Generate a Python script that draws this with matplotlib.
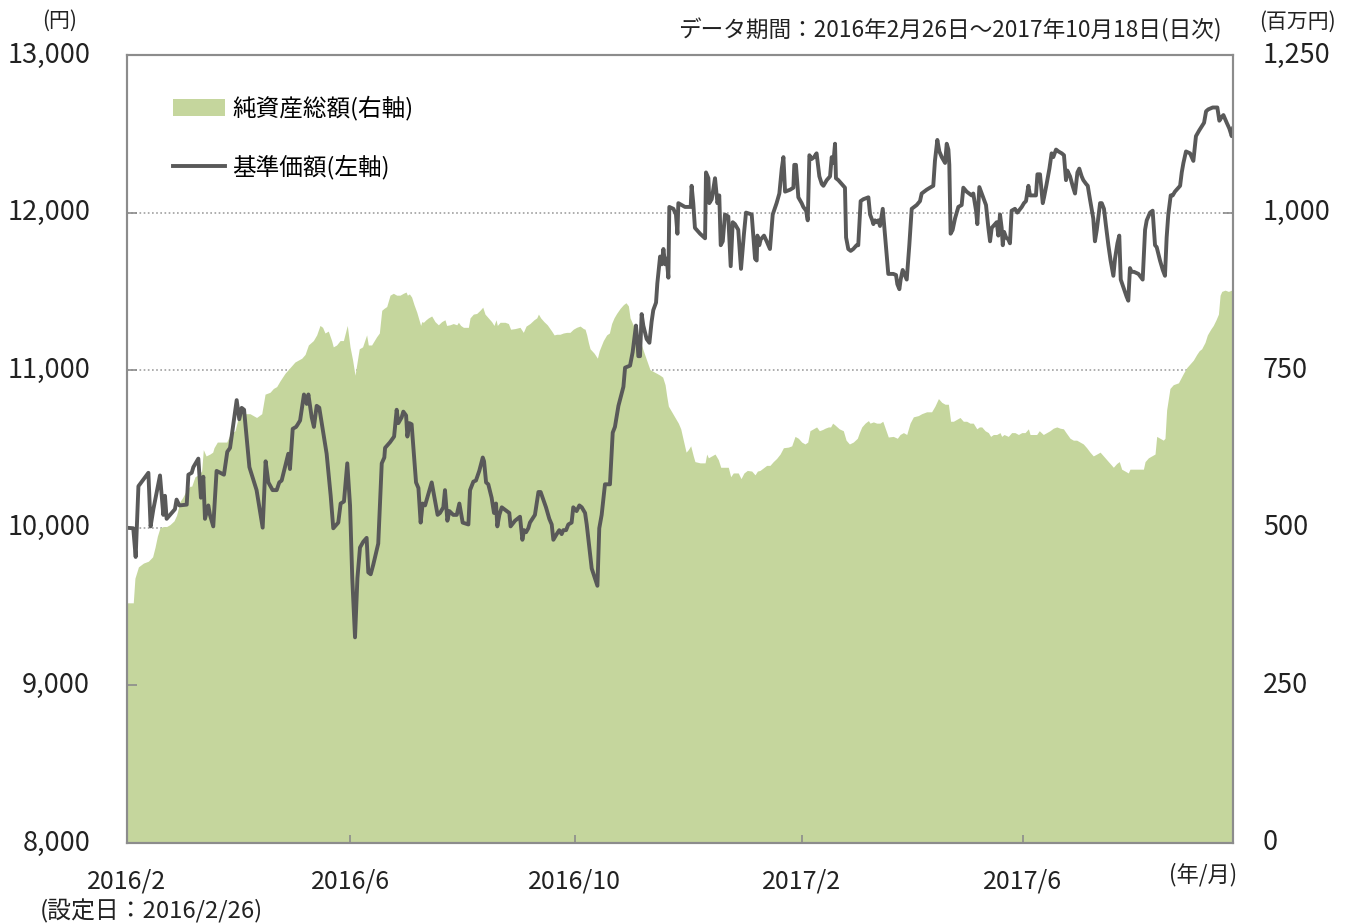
import numpy as np
import matplotlib
matplotlib.use("Agg")
import matplotlib.pyplot as plt
import matplotlib.transforms as mtransforms
from matplotlib.patches import Patch
from matplotlib.lines import Line2D

plt.rcParams['font.family'] = ['Noto Sans CJK JP', 'DejaVu Sans']

START = np.datetime64('2016-02-26')
END = np.datetime64('2017-10-18')

# 基準価額 (左軸): days since launch, price (円)
nav_days = [0, 3.4, 4.7, 6.2, 11.6, 12.8, 14.3, 17.9, 19.7, 20.6, 21.5, 26.0, 26.9, 28.4, 32.4, 33.3, 35.1, 36.0,
            38.7, 40.1, 41.4, 42.3, 44.1, 45.0, 46.8, 48.6, 52.6, 54.4, 55.9, 59.5, 60.9, 62.2, 63.5, 66.4, 70.3,
            73.6, 75.2, 76.7, 79.0, 81.2, 82.6, 83.9, 85.7, 87.5, 88.4, 89.9, 91.7, 92.4, 93.9, 96.0, 97.5, 98.4,
            100.2, 101.4, 102.9, 104.3, 108.3, 110.5, 111.9, 114.6, 115.9, 117.7, 119.5, 121.0, 122.2, 123.7,
            125.0, 126.4, 128.2, 130.0, 130.9, 132.2, 133.6, 136.3, 138.2, 139.6, 140.0,
            142.7, 144.9, 146.3, 147.2, 149.0, 149.9, 151.4, 152.1, 153.2, 154.4, 155.7, 156.8, 158.1, 159.3,
            160.4, 161.7, 165.3, 168.5, 169.8, 171.6, 172.5, 173.8, 174.9, 177.0, 178.9, 180.3, 182.1, 185.2,
            186.1, 187.9, 189.3, 191.1, 193.0, 193.7, 194.8, 196.0, 197.8, 199.1, 200.2, 200.9, 202.0, 203.3,
            206.0, 207.4, 208.1, 210.5, 213.2, 214.5, 215.4, 216.5, 217.7, 218.6, 221.3, 223.2, 224.4, 227.3,
            229.1, 230.4, 231.3, 233.1, 234.5, 235.8, 236.7, 238.2, 239.4, 241.2, 242.1, 243.0, 243.9, 245.4,
            246.7, 248.5, 249.4, 250.8, 252.1, 255.2, 256.2, 257.5, 259.3, 262.0, 263.5, 264.7, 266.6, 269.3,
            270.2, 272.9, 274.3, 276.1, 276.9, 277.4, 278.3, 279.2, 280.1, 281.9, 283.4, 284.6, 285.5, 287.0,
            287.7,
            289.2, 290.1, 291.0, 291.9, 292.8, 293.7, 294.2, 296.4, 297.8, 298.6, 299.1, 300.9, 302.7, 305.8,
            306.3, 307.2, 308.1, 310.9, 313.6, 314.1, 315.4, 315.9, 317.2, 319.0, 320.3, 321.3, 322.1, 323.2,
            324.4, 326.2, 327.5, 328.6, 329.8, 331.6, 333.1, 334.7, 335.8, 338.9, 340.7, 341.6, 342.0, 343.0,
            343.8, 345.6, 347.0, 348.8, 350.3, 352.4, 353.9, 355.2, 356.1, 357.0, 359.7, 361.5, 362.0, 362.9,
            364.2, 366.0, 366.9, 368.4, 369.3, 370.2, 371.4, 372.7, 374.1, 375.6, 376.9, 377.8, 379.6, 381.4,
            382.3, 383.2, 384.1, 384.6, 385.9, 387.7, 389.5, 390.1, 391.3, 392.6, 394.0, 395.8, 396.7, 398.0,
            399.5, 402.2, 403.1, 404.3, 404.9, 405.8, 406.7, 407.6, 408.5, 410.0, 410.7, 411.8, 413.0, 415.7,
            417.2, 417.9, 419.0, 419.7, 420.8, 422.1, 423.0, 424.4, 425.7, 428.4, 430.2, 431.1, 433.8,
            435.6, 437.4, 438.3, 439.6, 440.7, 442.0, 443.8, 444.7, 445.6, 446.1, 446.8, 447.9, 449.2, 451.0,
            452.8, 453.7, 455.5, 458.2, 459.1, 460.6, 461.3, 462.4, 463.7, 464.9, 466.0, 467.3, 468.2, 469.1,
            470.9, 471.8, 472.7, 473.6, 474.5, 475.1, 475.8, 476.9, 478.1, 479.0, 479.9, 481.7, 483.0, 485.4,
            486.6, 487.7, 489.0, 489.9, 491.7, 493.1, 493.9, 495.3, 496.8, 497.5, 498.9, 500.4, 501.6, 502.5,
            504.0, 505.3, 507.1, 508.3, 509.4, 510.1, 511.6, 513.0, 514.3, 515.6, 516.6, 517.9, 518.8, 520.3,
            521.2, 522.4, 524.2, 525.1, 526.1, 527.9, 528.8, 530.0, 531.1, 532.4, 533.6, 535.1, 536.0, 537.3,
            538.3, 539.1, 540.9, 542.3, 543.2, 544.1, 545.0, 546.3, 548.7, 551.0, 552.3, 553.2, 555.0, 556.4,
            557.7, 558.6, 560.4, 561.9, 563.1, 564.0, 564.9, 566.2, 567.3, 568.5, 570.4, 571.3, 572.2, 573.1,
            574.5, 576.7, 578.5, 579.9, 581.7, 583.0, 584.3, 585.4, 586.6, 589.0, 591.5, 592.6, 593.9, 594.8,
            596.6, 598.0, 599.3, 600.0]
nav_values = [10000, 9997, 9815, 10264, 10349, 10009, 10118, 10332, 10082, 10203, 10057, 10118, 10179, 10142,
              10147, 10337, 10349, 10385, 10439, 10191, 10324, 10057, 10142, 10082, 10009, 10361, 10337, 10482,
              10507, 10810, 10689, 10761, 10749, 10385, 10239, 10001, 10422, 10288, 10239, 10239, 10288, 10300,
              10385, 10470, 10373, 10628, 10640, 10652, 10681, 10846, 10786, 10846, 10701, 10640, 10774, 10762,
              10470, 10203, 9997, 10033, 10154, 10167, 10409, 10142, 9681, 9305, 9681, 9875, 9912, 9936, 9717,
              9705, 9766, 9900, 10409, 10446, 10507,
              10543, 10579, 10749, 10664, 10701, 10737, 10713, 10579, 10664, 10657, 10458, 10288, 10252, 10033,
              10154, 10142, 10288, 10082, 10094, 10130, 10239, 10045, 10106, 10082, 10082, 10154, 10033, 10021,
              10239, 10293, 10300, 10361, 10446, 10422, 10288, 10276, 10191, 10094, 10154, 10009, 10082, 10130,
              10106, 10094, 10009, 10045, 10070, 9924, 9985, 9972, 9997, 10033, 10082, 10227, 10227, 10130,
              10057, 10021, 9924, 9960, 9985, 9960, 9985, 9985, 10021, 10033, 10130, 10118, 10106, 10142,
              10130, 10094, 10021, 9875, 9742, 9632, 9997, 10082, 10276, 10276, 10604, 10640, 10774, 10895,
              11016, 11029, 11114, 11283, 11186, 11089, 11089, 11356, 11283, 11198, 11174, 11308, 11381, 11429,
              11551,
              11721, 11672, 11769, 11672, 11708, 11587, 12036, 12024, 11988, 11866, 12060, 12048, 12036, 12036,
              12170, 12060, 11903, 11866, 11837, 12255, 12218, 12060, 12085, 12218, 12060, 12109, 11793, 11818,
              11988, 11975, 11660, 11939, 11927, 11891, 11643, 11866, 12000, 11988, 11708, 11696, 11854, 11793,
              11830, 11854, 11818, 11769, 11988, 12060, 12121, 12279, 12352, 12133, 12145, 12158, 12303, 12303,
              12097, 12060, 12036, 12012, 11951, 12364, 12340, 12352, 12376, 12230, 12182, 12170, 12206, 12230,
              12352, 12315, 12437, 12218, 12206, 12182, 12158, 11842, 11769, 11757, 11769, 11793, 11793, 12073,
              12085, 12097, 11988, 11951, 11927, 11951, 11939, 11951, 11915, 12024, 11927, 11769, 11611, 11611,
              11604, 11546, 11514, 11575, 11636, 11599, 11575, 11793, 12024, 12048, 12073, 12121, 12145,
              12158, 12170, 12328, 12461, 12388, 12352, 12315, 12437, 12400, 12303, 11866, 11890, 11963, 12036,
              12048, 12158, 12133, 12109, 12121, 12012, 11927, 12162, 12121, 12085, 12048, 11903, 11818, 11903,
              11927, 11939, 11854, 11988, 11903, 11793, 11878, 11842, 11830, 11805, 12012, 12024, 12000, 12036,
              12060, 12073, 12170, 12109, 12109, 12109, 12243, 12243, 12060, 12097, 12182, 12279, 12376, 12352,
              12400, 12388, 12376, 12364, 12206, 12267, 12230, 12170, 12121, 12255, 12279, 12230, 12206, 12182,
              12170, 12085, 11963, 11818, 11890, 12060, 12060, 12024, 11915, 11793, 11696, 11599, 11708, 11805,
              11854, 11575, 11514, 11466, 11441, 11648, 11624, 11624, 11611, 11575, 11891, 11951, 12000, 12012,
              11793, 11781, 11696, 11636, 11599, 11842, 11988, 12109, 12109, 12133, 12158, 12170, 12255, 12315,
              12388, 12376, 12328, 12485, 12522, 12546, 12570, 12643, 12655, 12667, 12667, 12583, 12607, 12619,
              12570, 12534, 12485, 12534]

# 純資産総額 (右軸): days since launch, net assets (百万円)
aum_days = [0, 3.4, 4.3, 6.2, 8.9, 11.6, 13.9, 15.2, 16.5, 17.9, 19.7, 21.5, 23.3, 25.5, 26.9, 28.8, 30.2, 32.4,
            34.2, 35.1, 36.9, 38.7, 40.5, 41.4, 42.9, 45.0, 46.5, 47.2, 49.0, 52.3, 54.1, 55.9, 58.6, 60.4, 61.3,
            62.8, 64.0, 66.7, 70.3, 73.1, 74.9, 77.6, 79.4, 81.2, 83.0, 85.7, 87.5, 89.3, 91.1, 94.8, 96.6, 98.4,
            101.1, 102.9, 104.7, 106.1, 107.4, 109.2, 111.0, 111.9, 113.7, 115.6, 117.4, 119.5, 121.0, 122.4,
            123.7, 125.0, 126.0, 127.8, 130.0, 130.9, 132.7, 135.4, 136.9, 138.2, 139.4, 140.9,
            142.7, 144.5, 146.3, 148.1, 149.9, 151.4, 152.1, 153.2, 154.4, 155.7, 157.2, 158.1, 159.3, 159.9,
            160.8, 162.2, 163.5, 165.3, 167.1, 168.9, 170.7, 172.5, 173.4, 175.2, 177.0, 178.9, 179.8, 181.0,
            182.5, 185.2, 186.1, 187.9, 189.7, 191.5, 193.0, 194.2, 196.0, 197.8, 199.1, 200.2, 200.9, 202.4,
            205.1, 206.9, 208.1, 210.5, 213.2, 215.0, 216.5, 218.6, 220.8, 222.3, 223.2, 224.4, 226.2, 228.0,
            230.4, 231.7, 233.1, 234.9, 236.7, 238.5, 240.3, 242.1, 243.9, 245.8, 247.6, 248.5, 249.4, 250.3,
            251.2, 253.4, 255.2, 256.2, 258.4, 260.2, 261.7, 262.9, 264.2, 265.6, 267.5, 269.3, 270.7, 272.0,
            272.9, 274.7, 276.5, 278.3, 280.1, 281.9, 283.7, 285.5, 287.4,
            289.2, 290.6, 291.9, 292.8, 293.7, 295.5, 297.3, 299.1, 300.4, 301.8, 303.3, 304.5, 305.8, 307.2,
            308.1, 310.9, 313.6, 314.5, 315.4, 317.2, 319.0, 320.8, 322.1, 324.4, 326.2, 327.5, 328.9, 331.6,
            333.1, 334.7, 336.5, 338.9, 340.7, 342.0, 343.4, 345.2, 347.0, 348.8, 350.6, 352.4, 354.3, 356.1,
            358.8, 360.6, 362.4, 364.2, 366.0, 367.8, 369.3, 370.5, 372.3, 374.1, 375.6, 377.4, 378.7, 380.5,
            381.7, 382.8, 384.1, 386.4, 388.6, 390.1, 391.9, 394.0, 396.2, 397.3, 398.6, 400.4, 402.2, 403.1,
            404.9, 406.7, 408.5, 410.0, 411.8, 413.0, 415.7, 417.9, 419.4, 421.2, 423.0, 424.8, 426.6, 429.3,
            431.1, 433.8,
            435.6, 436.5, 438.3, 440.2, 442.0, 443.8, 445.6, 446.8, 448.3, 450.1, 451.9, 453.7, 455.5, 457.3,
            459.1, 461.0, 462.4, 463.7, 465.5, 467.3, 468.5, 470.0, 471.8, 473.6, 474.5, 475.8, 478.1, 479.9,
            481.7, 483.6, 485.4, 487.2, 489.0, 489.9, 491.7, 493.5, 494.9, 497.1, 498.9, 500.7, 502.5, 504.4,
            506.2, 508.0, 509.4, 511.6, 513.4, 515.2, 517.0, 518.8, 520.6, 522.4, 524.2, 526.1, 527.9, 529.7,
            531.5, 533.3, 535.1, 536.9, 538.3, 539.6, 541.4, 543.2, 544.1, 545.9, 548.7, 551.4, 552.3, 554.1,
            555.9, 557.7, 558.6, 560.4, 562.2, 563.1, 564.0, 565.8, 567.6, 570.4, 573.1, 574.9, 576.7, 578.5,
            580.3, 581.7, 583.0, 584.8, 586.1, 587.9, 589.3, 590.8, 592.1, 593.0, 593.9, 595.7, 597.5, 599.3,
            600.0]
aum_values = [381, 381, 420, 438, 444, 447, 454, 469, 487, 500, 502, 502, 505, 511, 520, 542, 548, 560, 566, 566,
              581, 584, 590, 624, 614, 617, 620, 627, 636, 636, 636, 648, 654, 675, 684, 684, 681, 681, 675, 681,
              712, 715, 721, 724, 733, 745, 751, 757, 763, 769, 775, 790, 797, 806, 821, 818, 809, 812, 797, 787,
              790, 797, 797, 821, 787, 766, 742, 766, 784, 787, 806, 790, 790, 803, 809, 845, 848, 851,
              869, 872, 869, 869, 872, 874, 869, 871, 866, 854, 842, 833, 821, 827, 826, 830, 833, 836, 827, 822,
              827, 830, 821, 822, 824, 822, 826, 821, 818, 818, 833, 839, 840, 845, 850, 839, 833, 827, 821, 830,
              821, 826, 826, 824, 815, 816, 818, 810, 820, 824, 830, 833, 839, 833, 827, 822, 812, 806, 807, 807,
              809, 810, 810, 815, 818, 820, 816, 815, 806, 794, 784, 777, 769, 781, 797, 806, 809, 824, 833, 840,
              848, 854, 857, 852, 833, 821, 809, 797, 781, 766, 751, 748, 745,
              742, 739, 727, 709, 693, 684, 675, 666, 657, 639, 620, 624, 630, 614, 605, 603, 603, 617, 611, 614,
              617, 608, 596, 596, 596, 581, 587, 587, 578, 587, 591, 590, 584, 590, 591, 595, 599, 599, 605, 610,
              617, 627, 628, 630, 645, 642, 636, 633, 636, 654, 657, 660, 654, 656, 658, 660, 660, 666, 663, 657,
              654, 639, 633, 636, 642, 651, 660, 666, 670, 666, 668, 666, 666, 669, 654, 644, 645, 642, 648, 651,
              648, 666, 676, 678, 681, 684,
              684, 684, 693, 705, 699, 696, 696, 669, 669, 672, 675, 669, 669, 666, 666, 657, 660, 660, 654, 651,
              645, 648, 648, 651, 645, 648, 645, 651, 651, 648, 651, 651, 657, 648, 648, 648, 654, 648, 651, 654,
              658, 660, 658, 657, 651, 642, 639, 639, 636, 633, 627, 620, 614, 617, 620, 614, 608, 602, 596, 602,
              605, 593, 590, 587, 593, 593, 593, 593, 605, 611, 614, 617, 645, 642, 639, 642, 687, 721, 727, 730,
              745, 754, 760, 766, 775, 781, 784, 794, 806, 815, 821, 830, 839, 869, 875, 877, 875, 877, 883]

left_ticks = [8000, 9000, 10000, 11000, 12000, 13000]
right_ticks = [0, 250, 500, 750, 1000, 1250]
x_tick_dates = ['2016-02-26', '2016-06-26', '2016-10-26', '2017-02-26', '2017-06-26']
x_tick_labels = ['2016/2', '2016/6', '2016/10', '2017/2', '2017/6']

def to_dates(days):
    return START + (np.array(days) * 86400).astype('timedelta64[s]')

W, H = 1349, 923
fig = plt.figure(figsize=(W / 100, H / 100), dpi=100)
fig.patch.set_facecolor('white')
ax = fig.add_axes([127 / W, (H - 843) / H, (1233 - 127) / W, (843 - 55) / H])
ax2 = ax.twinx()

bg = '#f8f7f3'
green = '#c5d69d'
line_c = '#595959'
spine_c = '#8c8c8c'

ax2.set_zorder(1)
ax.set_zorder(2)
ax.patch.set_visible(False)
ax2.patch.set_facecolor(bg)

ax2.set_axisbelow(True)
ax2.grid(axis='y', color='#a0a0a0', linestyle=(0, (1, 1.5)), linewidth=1.2)
ax2.fill_between(to_dates(aum_days), 0, aum_values, color=green, linewidth=0, zorder=2)
ax.plot(to_dates(nav_days), nav_values, color=line_c, linewidth=2.8, solid_joinstyle='round')

ax.set_xlim(START.astype('datetime64[s]'), END.astype('datetime64[s]'))
ax.set_ylim(8000, 13000)
ax2.set_ylim(0, 1250)

ax.set_yticks(left_ticks)
ax.set_yticklabels([f'{v:,}' for v in left_ticks])
ax2.set_yticks(right_ticks)
ax2.set_yticklabels([f'{v:,}' for v in right_ticks])
ax.set_xticks(np.array(x_tick_dates, dtype='datetime64[D]'))
ax.set_xticklabels(x_tick_labels)

for a in (ax, ax2):
    for s in a.spines.values():
        s.set_color(spine_c)
        s.set_linewidth(1.5)
ax.tick_params(axis='y', direction='in', length=7, width=1.2, color=spine_c, labelsize=19.5, pad=26.5,
               labelcolor='#222222')
ax2.tick_params(axis='y', direction='in', length=7, width=1.2, color=spine_c, labelsize=19.5, pad=21.5,
                labelcolor='#222222')
ax.tick_params(axis='x', direction='in', length=6, width=1.2, color=spine_c, labelsize=18, pad=18.5,
               labelcolor='#222222')

# nudge y tick labels up slightly
shift = mtransforms.ScaledTranslation(0, 3 / 100, fig.dpi_scale_trans)
for lab in ax.get_yticklabels() + ax2.get_yticklabels():
    lab.set_transform(lab.get_transform() + shift)

handles = [Patch(facecolor=green, edgecolor='none', label='純資産総額(右軸)'),
           Line2D([], [], color=line_c, linewidth=2.8, label='基準価額(左軸)')]
ax.legend(handles=handles, loc='upper left', bbox_to_anchor=(0.0416, 0.948), frameon=False, fontsize=17,
          handlelength=2.2, handleheight=0.75, labelspacing=1.42, handletextpad=0.3, borderaxespad=0,
          borderpad=0)

txt = '#222222'
fig.text(60 / W, 1 - 21 / H, '(円)', ha='center', va='center', fontsize=15, color=txt)
fig.text(1297 / W, 1 - 22 / H, '(百万円)', ha='center', va='center', fontsize=15, color=txt)
fig.text(1222 / W, 1 - 30 / H, 'データ期間：2016年2月26日～2017年10月18日(日次)', ha='right', va='center',
         fontsize=16.3, color=txt)
fig.text(1237 / W, 1 - 875 / H, '(年/月)', ha='right', va='center', fontsize=16, color=txt)
fig.text(40 / W, 1 - 911 / H, '(設定日：2016/2/26)', ha='left', va='center', fontsize=17.2, color=txt)

fig.savefig('out.png', dpi=100, facecolor='white')
